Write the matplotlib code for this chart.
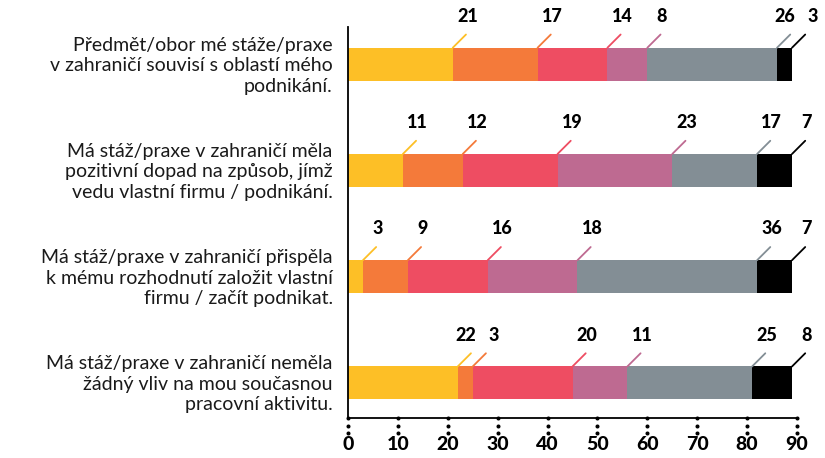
import numpy as np
import matplotlib
matplotlib.use('Agg')
import matplotlib.pyplot as plt
import matplotlib.transforms as mtransforms

plt.rcParams['font.family'] = ['Lato', 'DejaVu Sans']

# ------------------------------------------------------------
# data
# ------------------------------------------------------------
categories = [
    'Předmět/obor mé stáže/praxe\nv zahraničí souvisí s oblastí mého\npodnikání.',
    'Má stáž/praxe v zahraničí měla\npozitivní dopad na způsob, jímž\nvedu vlastní firmu / podnikání.',
    'Má stáž/praxe v zahraničí přispěla\nk mému rozhodnutí založit vlastní\nfirmu / začít podnikat.',
    'Má stáž/praxe v zahraničí neměla\nžádný vliv na mou současnou\npracovní aktivitu.',
]
seg1 = [21, 11, 3, 22]
seg2 = [17, 12, 9, 3]
seg3 = [14, 19, 16, 20]
seg4 = [8, 23, 18, 11]
seg5 = [26, 17, 36, 25]
seg6 = [3, 7, 7, 8]
xticks = [0, 10, 20, 30, 40, 50, 60, 70, 80, 90]

series = [seg1, seg2, seg3, seg4, seg5, seg6]
colors = ['#FDBF26', '#F47A3A', '#EE4D62', '#BE6A91', '#838E95', '#000000']

# ------------------------------------------------------------
# figure
# ------------------------------------------------------------
fig = plt.figure(figsize=(8.25, 4.58), dpi=100)
ax = fig.add_axes([348 / 825, 1 - 418 / 458, 449 / 825, 391 / 458])

y = np.arange(len(categories))
bar_h = 0.31
vals_all = np.array(series, dtype=float)          # (n_series, n_cat)
ends_all = np.cumsum(vals_all, axis=0)
lefts_all = ends_all - vals_all

for k, col in enumerate(colors):
    ax.barh(y, vals_all[k], left=lefts_all[k], height=bar_h, color=col, linewidth=0)

ax.set_xlim(0, 90)
ax.set_ylim(3.33, -0.35)

# value labels with leader lines; nudge neighbours that would collide
lead = 9.5            # leader length in points
min_gap = 5.6         # minimal distance of label centres (data units)
for j, yi in enumerate(y):
    ends = ends_all[:, j]
    lx = ends + 0.0
    for _ in range(10):
        for k in range(len(lx) - 1):
            d = lx[k + 1] - lx[k]
            if d < min_gap:
                shift = (min_gap - d) / 2
                lx[k] -= shift
                lx[k + 1] += shift
    for k, col in enumerate(colors):
        ax.annotate('', xy=(ends[k], yi - bar_h / 2), xytext=(lead, lead),
                    textcoords='offset points',
                    arrowprops=dict(arrowstyle='-', color=col, lw=1.3,
                                    shrinkA=0, shrinkB=0),
                    annotation_clip=False)
        dx_pt = (lx[k] - ends[k]) * (449 / 90) * 72 / 100
        ax.annotate(f'{int(vals_all[k, j])}', xy=(ends[k], yi - bar_h / 2),
                    xytext=(lead + 1 + dx_pt, 16.5),
                    textcoords='offset points', ha='center', va='bottom',
                    fontsize=13, fontweight='black', color='black',
                    annotation_clip=False)

# category labels
for yi, cat in zip(y, categories):
    ax.annotate(cat, xy=(0, yi), xytext=(-11, -1), textcoords='offset points',
                ha='right', va='center', fontsize=14, linespacing=1.25,
                color='#1a1a1a', annotation_clip=False)

ax.set_yticks([])
ax.set_xticks(xticks)
ax.set_xticklabels([str(t) for t in xticks], fontsize=14, fontweight='black')
ax.tick_params(axis='x', length=0, pad=13)

# dotted ticks
trans = mtransforms.blended_transform_factory(ax.transData, ax.transAxes)
for t in xticks:
    ax.plot([t, t, t], [0, -0.02, -0.038], linestyle='none', marker='o',
            markersize=1.9, color='black', transform=trans, clip_on=False)

for s in ['top', 'right']:
    ax.spines[s].set_visible(False)
ax.spines['left'].set_linewidth(1.3)
ax.spines['bottom'].set_linewidth(1.3)

plt.savefig('out.png', dpi=100)
plt.close()
